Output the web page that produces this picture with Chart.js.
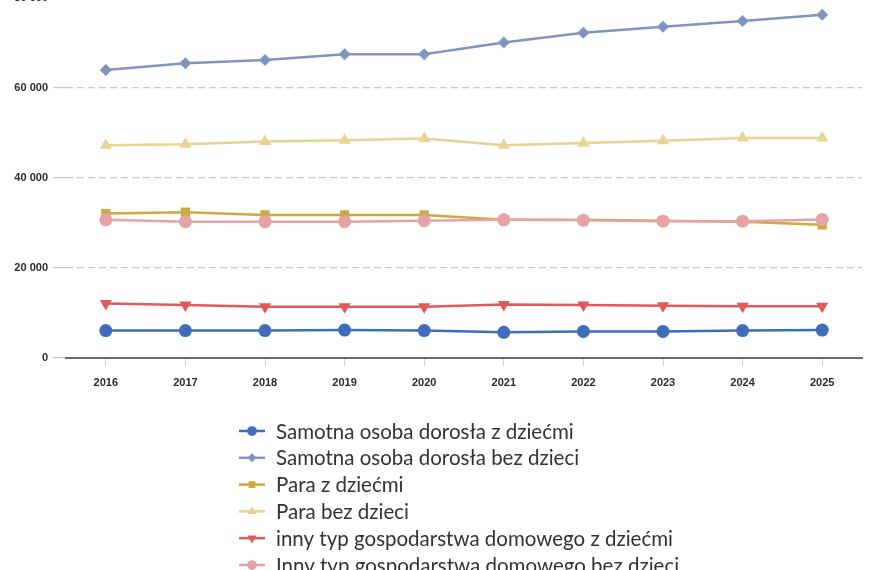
<!DOCTYPE html>
<html>
<head>
<meta charset="utf-8">
<script src="https://cdn.jsdelivr.net/npm/chart.js@4"></script>
<style>
  html, body { margin: 0; padding: 0; background: #fff; overflow: hidden; width: 870px; height: 570px; }
  .wrap { position: absolute; left: 0; top: -20px; width: 870px; height: 610px; }
</style>
</head>
<body>
<div class="wrap"><canvas id="chart"></canvas></div>
<script>
const years = ['2016', '2017', '2018', '2019', '2020', '2021', '2022', '2023', '2024', '2025'];

const singleWithKids = [6100, 6100, 6100, 6200, 6100, 5700, 5900, 5900, 6100, 6200];
const singleNoKids = [64000, 65500, 66200, 67500, 67500, 70100, 72300, 73600, 74900, 76300];
const coupleWithKids = [32100, 32400, 31800, 31800, 31800, 30700, 30700, 30500, 30300, 29600];
const coupleNoKids = [47300, 47500, 48100, 48400, 48800, 47300, 47800, 48300, 48900, 48900];
const otherWithKids = [12100, 11800, 11400, 11400, 11400, 11900, 11800, 11600, 11500, 11500];
const otherNoKids = [30700, 30300, 30300, 30300, 30500, 30700, 30600, 30400, 30400, 30800];

const seriesNames = [
  'Samotna osoba dorosła z dziećmi',
  'Samotna osoba dorosła bez dzieci',
  'Para z dziećmi',
  'Para bez dzieci',
  'inny typ gospodarstwa domowego z dziećmi',
  'Inny typ gospodarstwa domowego bez dzieci'
];
const yTicks = [0, 20000, 40000, 60000, 80000];

const fmt = (v) => String(v).replace(/\B(?=(\d{3})+(?!\d))/g, ' ');

function series(label, data, color, style, radius, rotation, order) {
  return {
    label: label,
    data: data,
    borderColor: color,
    backgroundColor: color,
    borderWidth: 2.5,
    pointStyle: style,
    pointRadius: radius,
    pointHoverRadius: radius,
    pointRotation: rotation,
    pointBorderWidth: 0,
    tension: 0,
    order: order
  };
}

const datasets = [
  series(seriesNames[0], singleWithKids, '#3f6dbb', 'circle', 6.5, 0, 5),
  series(seriesNames[1], singleNoKids, '#7e95c0', 'rectRot', 6, 0, 4),
  series(seriesNames[2], coupleWithKids, '#ccaa3e', 'rect', 6.5, 0, 3),
  series(seriesNames[3], coupleNoKids, '#e8d394', 'triangle', 7, 0, 2),
  series(seriesNames[4], otherWithKids, '#e05a5c', 'triangle', 7, 180, 1),
  series(seriesNames[5], otherNoKids, '#e5a3a6', 'circle', 6.5, 0, 0)
];

// legend drawn as a list under the plot, one entry per row
const listLegend = {
  id: 'listLegend',
  afterDraw(chart) {
    const ctx = chart.ctx;
    const x0 = 239, x1 = 265, tx = 276, y0 = 451, step = 26.8;
    chart.data.datasets.forEach((ds, i) => {
      const y = y0 + i * step;
      ctx.save();
      ctx.strokeStyle = ds.borderColor;
      ctx.lineWidth = 2.5;
      ctx.beginPath();
      ctx.moveTo(x0, y);
      ctx.lineTo(x1, y);
      ctx.stroke();
      ctx.fillStyle = ds.backgroundColor;
      Chart.helpers.drawPoint(ctx, {
        pointStyle: ds.pointStyle,
        rotation: ds.pointRotation,
        radius: ds.pointRadius * 0.75,
        borderWidth: 0
      }, (x0 + x1) / 2, y);
      ctx.fillStyle = '#333333';
      ctx.font = '20.5px Lato, "Open Sans", sans-serif';
      ctx.textBaseline = 'middle';
      ctx.textAlign = 'left';
      ctx.fillText(ds.label, tx, y + 1);
      ctx.restore();
    });
  }
};

new Chart(document.getElementById('chart'), {
  type: 'line',
  data: { labels: years, datasets: datasets },
  options: {
    responsive: true,
    maintainAspectRatio: false,
    animation: false,
    layout: { padding: { top: 18, right: 8, bottom: 192, left: 0 } },
    plugins: {
      legend: { display: false },
      tooltip: { enabled: false }
    },
    scales: {
      x: {
        offset: true,
        grid: {
          offset: false,
          drawOnChartArea: false,
          drawTicks: true,
          tickLength: 8,
          color: '#c9d4e4'
        },
        border: { display: true, color: '#6b6b6b', width: 2 },
        ticks: {
          padding: 10,
          color: '#2b2b2b',
          font: { family: 'Arial, "Liberation Sans", sans-serif', size: 11, weight: 'bold' }
        },
        afterFit(scale) { scale.height = 40; }
      },
      y: {
        min: 0,
        max: 80000,
        afterBuildTicks(scale) { scale.ticks = yTicks.map(v => ({ value: v })); },
        grid: {
          color: '#c8c8c8',
          lineWidth: 1.2,
          tickLength: 13,
          drawTicks: true
        },
        border: { display: false, dash: [7, 4] },
        ticks: {
          padding: 5,
          color: '#2b2b2b',
          callback: (v) => fmt(v),
          font: { family: 'Arial, "Liberation Sans", sans-serif', size: 11, weight: 'bold' }
        },
        afterFit(scale) { scale.width = 66; }
      }
    }
  },
  plugins: [listLegend]
});
</script>
</body>
</html>
